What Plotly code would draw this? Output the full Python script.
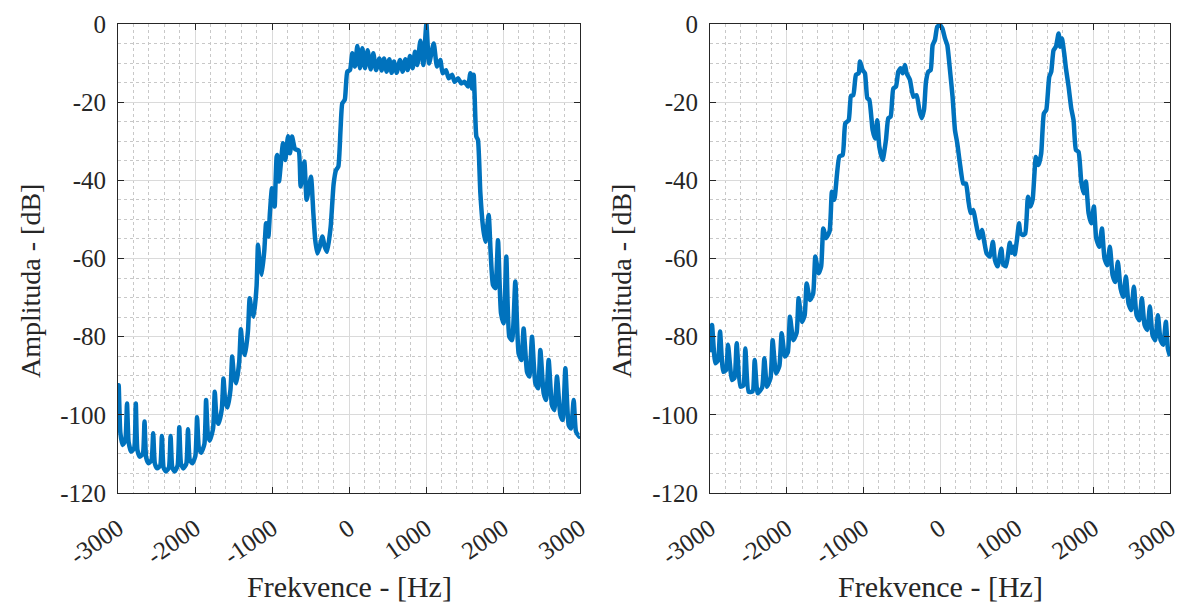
import plotly.graph_objects as go

# ---- data (frequency in Hz, amplitude in dB) ----
left_hz = [-3000, -2991, -2970, -2940, -2905, -2883, -2862, -2830, -2790, -2769, -2748, -2717,
           -2678, -2656, -2634, -2604, -2565, -2543, -2521, -2491, -2452, -2430, -2408, -2378,
           -2339, -2317, -2295, -2265, -2226, -2204, -2182, -2152, -2113, -2091, -2068, -2034,
           -1995, -1973, -1950, -1921, -1878, -1856, -1833, -1808, -1765, -1743, -1720, -1695,
           -1652, -1630, -1607, -1578, -1539, -1517, -1494, -1464, -1426, -1404, -1381, -1351,
           -1312, -1290, -1267, -1238, -1200, -1182, -1160, -1134, -1100, -1077, -1060, -1047,
           -1026, -1000, -974, -965, -940, -931, -909, -857, -827, -792, -766, -740, -701, -654,
           -628, -580, -550, -494, -463, -440, -411, -380, -346, -315, -285, -238, -200, -169,
           -139, -110, -87, -55, -22, 13, 43, 78, 108, 143, 173, 208, 242, 281, 316, 351, 394,
           424, 455, 489, 524, 554, 584, 619, 662, 697, 732, 762, 792, 827, 857, 887, 927, 965,
           1005, 1040, 1100, 1143, 1186, 1216, 1260, 1294, 1338, 1372, 1416, 1459, 1502, 1545,
           1576, 1597, 1619, 1632, 1654, 1675, 1706, 1740, 1770, 1814, 1840, 1870, 1900, 1935,
           1974, 2009, 2043, 2082, 2117, 2160, 2203, 2238, 2268, 2312, 2342, 2377, 2420, 2455,
           2485, 2528, 2558, 2593, 2636, 2667, 2701, 2745, 2775, 2810, 2853, 2883, 2918, 2948,
           2991, 3000]
left_db = [-104, -92.4, -104.5, -107.7, -106.5, -97.1, -107, -109.4, -108.5, -97.1, -109, -110.7,
           -110, -101.7, -111, -112.4, -111.5, -104.7, -112.5, -113.7, -113, -105.4, -113.5, -114.5,
           -113.5, -105.4, -113.5, -114.5, -113, -103.2, -112.5, -113.7, -112.5, -103.7, -111.5, -112.4,
           -110.5, -100.6, -108.5, -109.7, -107.5, -96.2, -105, -106.6, -103.5, -94.1, -101, -102.3,
           -98.5, -90.7, -96.5, -98.1, -93.5, -85.1, -90, -91.9, -86.5, -78.1, -83, -84.7,
           -78.5, -70.2, -73, -74.9, -67, -56.5, -61, -64.2, -58, -51.0, -53, -54.4,
           -48, -42, -44, -46.7, -34, -33.5, -40.3, -30.5, -34.8, -28.7, -33.1, -28.8, -32, -32.4,
           -41.6, -35.2, -45, -39.1, -48.4, -55, -58.7, -57, -54.4, -57, -58.3, -51.9, -41, -37.4,
           -36.5, -27, -20.3, -19.4, -12.2, -11.8, -7.5, -10.9, -5.6, -11.3, -6.2, -11.3, -6.7, -11.6, -7.5, -11.8, -8.8,
           -11.9, -8.8, -12.2, -9.0, -12.5, -9.6, -12.5, -9.2, -12.2, -9.0, -11.8, -8.2, -11.3, -7.1, -10.5, -4.3, -10.5,
           0, -10.1, -5.0, -10.9, -9.2, -12.6, -11.8, -13.9, -13.0, -14.8, -13.9, -15.2, -14.8, -16.0,
           -12.6, -16.5, -13.0, -18.6, -28.8, -29.7, -43.3, -51.9, -55.7, -48.9, -58.7, -66.8, -67.6, -55.3,
           -74.0, -76.6, -59.5, -80.0, -80.9, -65.9, -84.3, -86.0, -77.9, -89.0, -90.2, -80.0, -91.9, -93.2,
           -83.4, -94.5, -96.2, -86.0, -97.5, -98.8, -90.2, -100.0, -101.3, -88.1, -102.6, -103.5, -96.2, -104.3,
           -105.6, -105.5]

right_hz = [-3000, -2974, -2930, -2895, -2869, -2826, -2790, -2765, -2713, -2680, -2652, -2604,
            -2565, -2539, -2496, -2445, -2417, -2378, -2320, -2291, -2257, -2210, -2183, -2139,
            -2095, -2065, -2022, -1985, -1957, -1913, -1870, -1844, -1800, -1765, -1739, -1696,
            -1655, -1626, -1583, -1550, -1522, -1487, -1440, -1409, -1378, -1313, -1270, -1235,
            -1191, -1161, -1131, -1096, -1061, -1044, -1009, -979, -948, -922, -879, -848, -818,
            -792, -748, -705, -674, -644, -609, -574, -544, -514, -488, -457, -435, -392, -348,
            -305, -270, -240, -209, -183, -153, -122, -96, -66, -36, -1, 30, 65, 95, 130, 164,
            195, 225, 260, 304, 338, 369, 399, 434, 469, 512, 547, 577, 608, 651, 690, 717, 752,
            800, 825, 861, 910, 935, 960, 975, 1003, 1030, 1050, 1081, 1112, 1147, 1177, 1208,
            1251, 1286, 1320, 1355, 1386, 1425, 1451, 1481, 1512, 1547, 1568, 1590, 1620, 1642,
            1677, 1712, 1742, 1773, 1807, 1842, 1873, 1903, 1938, 1973, 2007, 2038, 2077, 2112,
            2146, 2181, 2216, 2251, 2286, 2320, 2355, 2390, 2425, 2459, 2494, 2529, 2564, 2599,
            2633, 2668, 2703, 2738, 2772, 2807, 2842, 2877, 2911, 2946, 2972, 3000]
right_db = [-84, -77, -86.8, -86, -78.7, -89, -88.5, -82.1, -91.1, -90.5, -81.7, -92.8,
            -92.5, -83, -94.1, -94, -86, -94.5, -93, -85.5, -92.8, -90.5, -80.9, -89.4,
            -87.5, -79.1, -85.1, -84, -74.9, -80.9, -79, -70.2, -76.2, -74.5, -66.4, -70.6,
            -69, -59.5, -63.8, -62, -52.3, -54.8, -53, -42.9, -45, -33.9, -33.5, -25.4,
            -24.6, -18.4, -18.2, -13, -12.6, -9.6, -11.8, -12.6, -19, -19.4, -27.1, -29.3, -24.6,
            -31.4, -34.8, -29.7, -24.1, -23.7, -16.5, -16.0, -12.2, -11.3, -12.6, -10.5, -12.6, -14.3, -18.6,
            -18.2, -22, -24.1, -22, -14.8, -12.2, -11.8, -5.4, -4.1, -0.7, -0.3, -1.1, -3.7, -5.4, -11.8, -18.6,
            -27.1, -30.5, -35.7, -40.8, -40.8, -45, -48.4, -47.6, -51, -54.8, -52.7, -55.7, -58.7, -59.5, -55.7, -60.4, -62,
            -57.5, -61.5, -62, -56, -58.5, -57, -59, -55.3, -51, -53.5, -54, -53.6, -44.2, -46.7, -45,
            -34, -36.1, -33.1, -22.9, -22, -13.5, -12.2, -6.7, -5.8, -2.4, -5.8, -3.7, -7.5, -11.3,
            -16, -21.6, -24.6, -32.2, -32.7, -40.3, -43.3, -40.3, -48.4, -51, -46.7, -54.8, -57, -52.3,
            -60, -61.7, -57, -64.2, -66, -60.8, -67.6, -69.8, -64.6, -71.5, -73.2, -67.2, -74.5, -75.8,
            -70.2, -77, -78.3, -72.3, -79.6, -80.9, -74.5, -80.9, -82.1, -76.2, -83, -85]

x_ticks = [-3000, -2000, -1000, 0, 1000, 2000, 3000]
x_labels = ["-3000", "-2000", "-1000", "0", "1000", "2000", "3000"]
y_ticks = [-120, -100, -80, -60, -40, -20, 0]
y_labels = ["-120", "-100", "-80", "-60", "-40", "-20", "0"]

x_title = "Frekvence - [Hz]"
y_title = "Amplituda - [dB]"

LINE = "#0072BD"
AX = "#262626"
FONT = "Liberation Serif"
W, H = 1181, 602

fig = go.Figure()
fig.add_trace(go.Scatter(x=left_hz, y=left_db, mode="lines",
                         line=dict(color=LINE, width=4.5, shape="spline", smoothing=0.5),
                         xaxis="x", yaxis="y", showlegend=False))
fig.add_trace(go.Scatter(x=right_hz, y=right_db, mode="lines",
                         line=dict(color=LINE, width=4.5, shape="spline", smoothing=0.5),
                         xaxis="x2", yaxis="y2", showlegend=False))

def xax(domain, anchor):
    return dict(domain=domain, anchor=anchor, range=[-3000, 3000],
                tickmode="array", tickvals=x_ticks, ticktext=x_labels, tickangle=-35,
                ticks="inside", ticklen=6, tickcolor=AX, tickwidth=1,
                showline=True, linecolor=AX, linewidth=1, mirror="ticks",
                showgrid=True, gridcolor="#dadada", gridwidth=1, zeroline=False,
                minor=dict(dtick=200, tick0=0, showgrid=True, gridcolor="#c8c8c8",
                           griddash="dot", gridwidth=1, ticks=""),
                ticklabelstandoff=10,
                tickfont=dict(family=FONT, size=25, color=AX), automargin=False)

def yax(domain, anchor):
    return dict(domain=domain, anchor=anchor, range=[-120, 0],
                tickmode="array", tickvals=y_ticks, ticktext=y_labels,
                ticks="inside", ticklen=6, tickcolor=AX, tickwidth=1,
                showline=True, linecolor=AX, linewidth=1, mirror="ticks",
                showgrid=True, gridcolor="#dadada", gridwidth=1, zeroline=False,
                minor=dict(dtick=5, tick0=0, showgrid=True, gridcolor="#c8c8c8",
                           griddash="dot", gridwidth=1, ticks=""),
                ticklabelstandoff=6,
                tickfont=dict(family=FONT, size=25, color=AX), automargin=False)

yd = [1 - 493 / H, 1 - 24 / H]
fig.update_layout(
    width=W, height=H, margin=dict(l=0, r=0, t=0, b=0),
    paper_bgcolor="white", plot_bgcolor="white",
    xaxis=xax([118 / W, 580 / W], "y"),
    yaxis=yax(yd, "x"),
    xaxis2=xax([710 / W, 1170 / W], "y2"),
    yaxis2=yax(yd, "x2"),
    annotations=[
        dict(text=x_title, x=349 / W, y=1 - 586 / H, xref="paper", yref="paper",
             showarrow=False, font=dict(family=FONT, size=30, color=AX),
             xanchor="center", yanchor="middle"),
        dict(text=x_title, x=940 / W, y=1 - 586 / H, xref="paper", yref="paper",
             showarrow=False, font=dict(family=FONT, size=30, color=AX),
             xanchor="center", yanchor="middle"),
        dict(text=y_title, x=30 / W, y=1 - 281 / H, xref="paper", yref="paper",
             showarrow=False, textangle=-90, font=dict(family=FONT, size=28, color=AX),
             xanchor="center", yanchor="middle"),
        dict(text=y_title, x=621 / W, y=1 - 281 / H, xref="paper", yref="paper",
             showarrow=False, textangle=-90, font=dict(family=FONT, size=28, color=AX),
             xanchor="center", yanchor="middle"),
    ],
)

fig.write_html("out.html")
